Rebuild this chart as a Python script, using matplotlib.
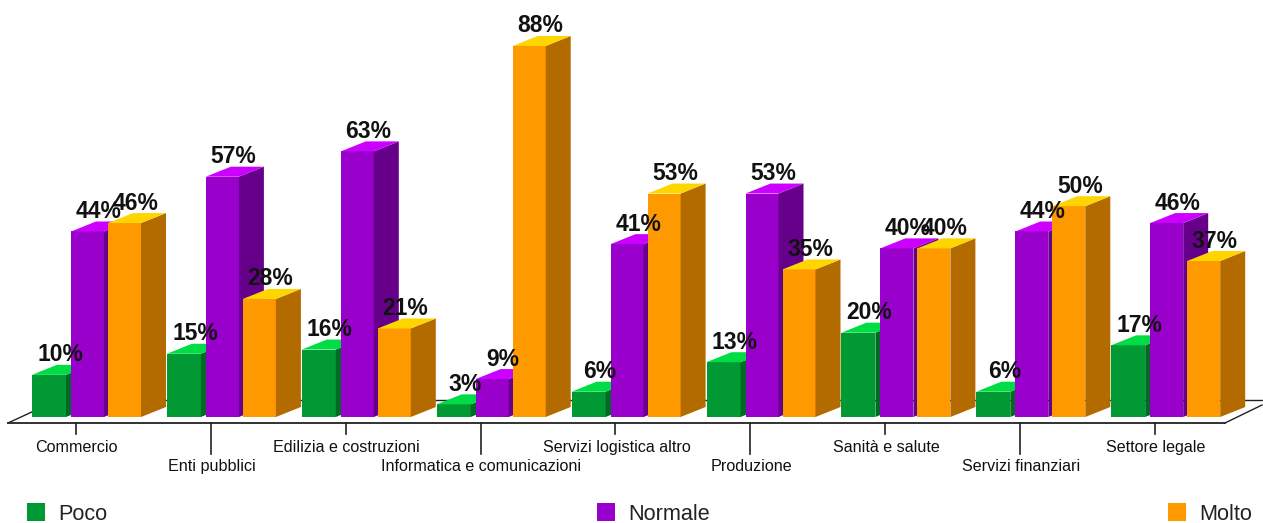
import matplotlib
matplotlib.use("Agg")
import matplotlib.pyplot as plt

plt.rcParams["font.family"] = ["Liberation Sans", "DejaVu Sans"]

categorie = [
    "Commercio",
    "Enti pubblici",
    "Edilizia e costruzioni",
    "Informatica e comunicazioni",
    "Servizi logistica altro",
    "Produzione",
    "Sanità e salute",
    "Servizi finanziari",
    "Settore legale",
]
poco = [10, 15, 16, 3, 6, 13, 20, 6, 17]
normale = [44, 57, 63, 9, 41, 53, 40, 44, 46]
molto = [46, 28, 21, 88, 53, 35, 40, 50, 37]
serie_nomi = ["Poco", "Normale", "Molto"]

# scala in pixel dell'immagine
PX_GRUPPO = 134.9
PX_PERC = 4.216
X0_PX = 32
Y0_PX = 417
W, H = 1263, 523

fig = plt.figure(figsize=(W / 100, H / 100), dpi=100)
ax = fig.add_axes([0, 0, 1, 1])
ax.set_xlim(-X0_PX / PX_GRUPPO, (W - X0_PX) / PX_GRUPPO)
ax.set_ylim(-(H - Y0_PX) / PX_PERC, Y0_PX / PX_PERC)
ax.axis("off")


def px(v):
    return v / PX_GRUPPO


def py(v):
    return v / PX_PERC


# assi prospettici
col_asse = "#222222"
ax.plot([px(8 - X0_PX), px(1225 - X0_PX)], [py(-6), py(-6)], color=col_asse, lw=1.3, zorder=1)
ax.plot([px(8 - X0_PX), px(34 - X0_PX)], [py(-6), py(6)], color=col_asse, lw=1, zorder=1)
ax.plot([px(1225 - X0_PX), px(1262 - X0_PX)], [py(-6), py(12)], color=col_asse, lw=1, zorder=1)
ax.plot([px(34 - X0_PX), px(1262 - X0_PX)], [py(17), py(17)], color=col_asse, lw=1, zorder=1)

# barre: scostamento, larghezza, colori fronte / lato / sopra
stili = [
    (0, 34, "#009933", "#006B24", "#00DD44"),
    (39, 33, "#9900CC", "#66008A", "#CC00FF"),
    (76, 33, "#FF9900", "#B36B00", "#FFD500"),
]
DX = 25
DY = 10

for s, valori in enumerate([poco, normale, molto]):
    off, larg, c_f, c_l, c_t = stili[s]
    z = 2 + s
    for i, v in enumerate(valori):
        x0 = i + px(off)
        x1 = x0 + px(larg)
        x2 = x1 + px(DX)
        ax.bar(x0, v, width=px(larg), align="edge", color=c_f, linewidth=0, zorder=z)
        ax.fill([x1, x2, x2, x1], [0, py(DY), v + py(DY), v], color=c_l, lw=0, zorder=z)
        ax.fill([x0, x1, x2, x0 + px(DX)], [v, v, v + py(DY), v + py(DY)], color=c_t, lw=0, zorder=z)

# etichette dei valori
for s, valori in enumerate([poco, normale, molto]):
    off, larg = stili[s][:2]
    for i, v in enumerate(valori):
        ax.text(i + px(off + larg / 2 + 11), v + py(DY - 1.5), f"{v}%", ha="center", va="bottom",
                fontsize=16.5, fontweight="bold", color="#111111", zorder=10)

# categorie su due righe alternate
for i, nome in enumerate(categorie):
    xt = i + px(75 - X0_PX) + px(0.8)
    lungo = i % 2 == 1
    ax.plot([xt, xt], [py(-6), py(-37 if lungo else -17)], color=col_asse, lw=1.2, zorder=1)
    ax.text(xt + px(1), py(-49.5 if lungo else -30.5), nome, ha="center", va="center", fontsize=11.6, color="#111111")

# legenda
leg_x = [27, 597, 1168]
for nome, lx, st in zip(serie_nomi, leg_x, stili):
    ax.bar(px(lx - X0_PX), py(18), width=px(18), bottom=py(-104), align="edge", color=st[2], linewidth=0)
    ax.text(px(lx + 31 - X0_PX), py(-97), nome, ha="left", va="center", fontsize=15.6, color="#222222")

fig.savefig("out.png", dpi=100)
